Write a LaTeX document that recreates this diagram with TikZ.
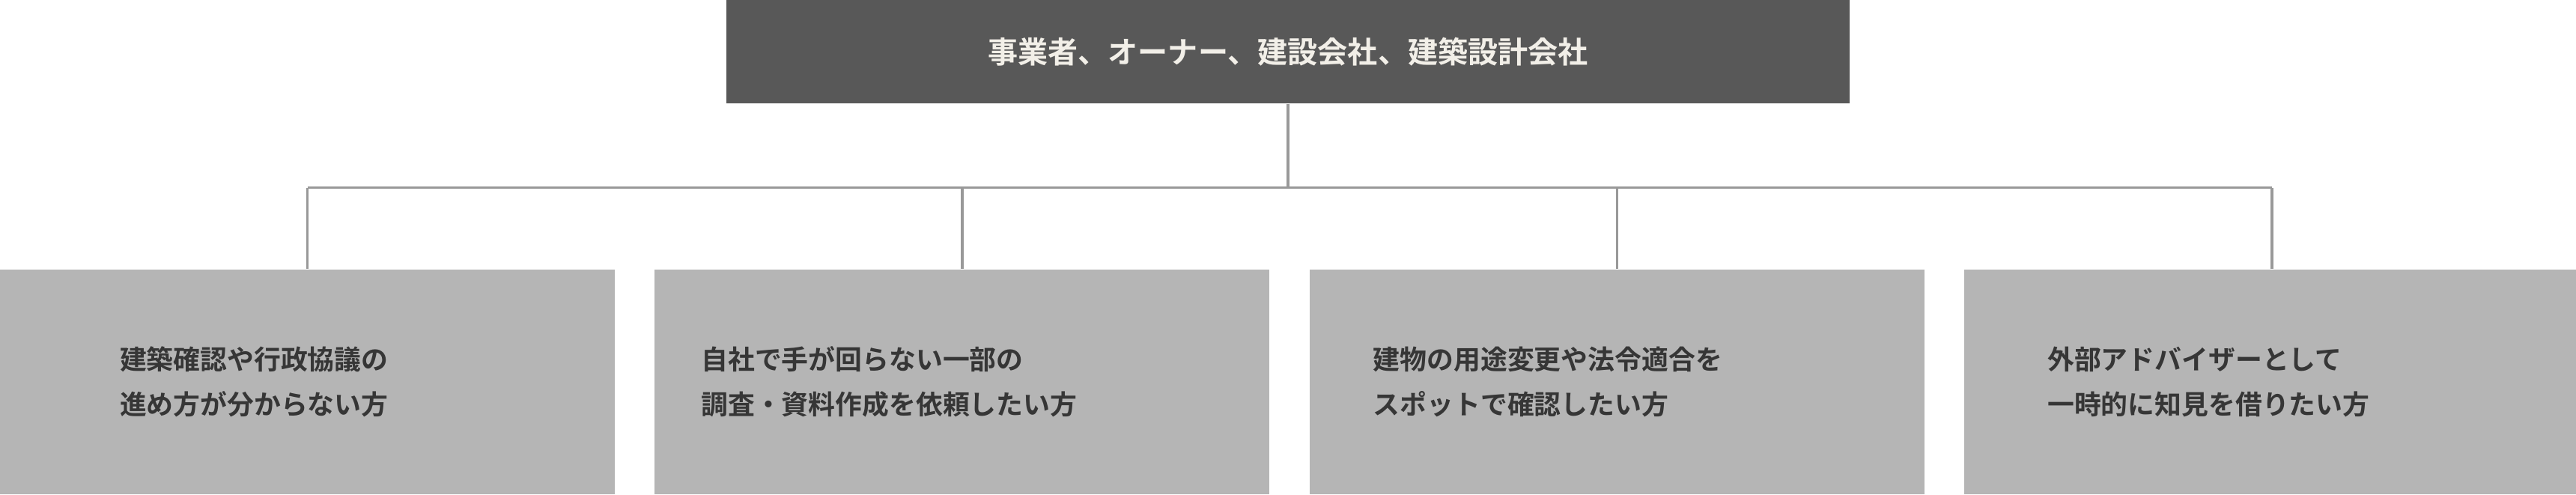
\documentclass[tikz,border=0pt]{standalone}
\usepackage{fontspec}
\newfontfamily\jp{Noto Sans CJK JP}[BoldFont={Noto Sans CJK JP Bold}]
\usetikzlibrary{positioning}
\definecolor{topgray}{HTML}{585858}
\definecolor{leafgray}{HTML}{B5B5B5}
\definecolor{linegray}{HTML}{999999}
\definecolor{toptext}{HTML}{F2EFE8}
\definecolor{leaftext}{HTML}{363636}

\begin{document}
\begin{tikzpicture}[node distance=0.52cm]
	\tikzstyle{topbox} = [rectangle, fill=topgray, minimum width=15cm, minimum height=1.38cm, inner sep=0pt, text=toptext, font=\jp\bfseries\fontsize{11.4}{14}\selectfont]
	\tikzstyle{leafbox} = [rectangle, fill=leafgray, minimum width=8.21cm, minimum height=3cm, inner sep=0pt]
	\tikzstyle{leaflabel} = [align=left, inner sep=0pt, text=leaftext, font=\jp\bfseries\fontsize{10.2}{17.07}\selectfont]
	\tikzstyle{branch} = [draw=linegray, line width=1pt]
	
	\useasboundingbox (0,0) rectangle (34.4,-6.6);
	
	\node [topbox] (owner) at (17.2,-0.69) {事業者、オーナー、建設会社、建築設計会社};
	\node [coordinate] (hub) at (17.2,-2.505) {};
	
	\node [leafbox] (b1) at (4.105,-5.1) {};
	\node [leafbox, right = of b1] (b2) {};
	\node [leafbox, right = of b2] (b3) {};
	\node [leafbox, right = of b3] (b4) {};
	
	\node [leaflabel, right = 1.60cm of b1.west] (t1) {建築確認や行政協議の\\進め方が分からない方};
	\node [leaflabel, right = 0.62cm of b2.west] (t2) {自社で手が回らない一部の\\調査・資料作成を依頼したい方};
	\node [leaflabel, right = 0.85cm of b3.west] (t3) {建物の用途変更や法令適合を\\スポットで確認したい方};
	\node [leaflabel, right = 1.11cm of b4.west] (t4) {外部アドバイザーとして\\一時的に知見を借りたい方};
	
	\draw [branch] (owner.south) -- (hub);
	\draw [branch] (b1.north |- hub) -- (b4.north |- hub);
	\foreach \b in {b1,b2,b3,b4}
		\draw [branch] (\b.north |- hub) -- (\b.north);
	
\end{tikzpicture}
\end{document}
